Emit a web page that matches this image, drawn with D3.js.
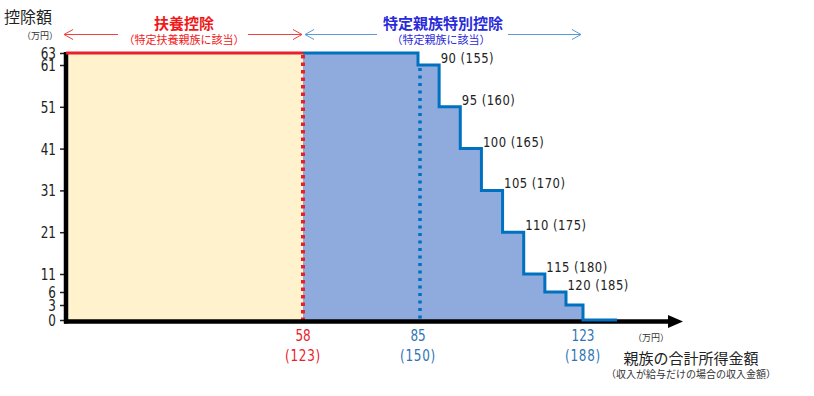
<!DOCTYPE html>
<html>
<head>
<meta charset="utf-8">
<script src="https://cdn.jsdelivr.net/npm/d3@7/dist/d3.min.js"></script>
<style>
  html, body { margin: 0; padding: 0; background: #fff; }
  svg { display: block; }
  .num { font-family: "DejaVu Sans", sans-serif; }
  .jp { font-family: "Noto Sans CJK JP", sans-serif; }
</style>
</head>
<body>
<svg id="chart" width="814" height="396"></svg>
<script>
// ---- data ----
const incomeSteps   = [58, 85, 90, 95, 100, 105, 110, 115, 120, 123];   // 親族の合計所得金額 (万円)
const salarySteps   = [123, 150, 155, 160, 165, 170, 175, 180, 185, 188]; // 給与収入 (万円)
const deductions    = [63, 61, 51, 41, 31, 21, 11, 6, 3, 0];          // 控除額 (万円)
const incomeEnd     = 129;                                            // line extension
const yTickValues   = [0, 3, 6, 11, 21, 31, 41, 51, 61, 63];
const xTickValues   = [58, 85, 123];
const xTickSalary   = [123, 150, 188];
const fuyoMax       = 63;

const svg = d3.select("#chart");

// scales (piecewise linear to follow the hand-drawn reference)
const xs = d3.scaleLinear()
  .domain([0, 58, 85, 120, 123, 129])
  .range([66, 303, 418, 566, 583, 617]);
const ys = d3.scaleLinear()
  .domain([0, 3, 6, 11, 61, 63])
  .range([320, 305, 292, 274, 65, 53]);

const stepPts = incomeSteps.map((x, i) => ({x, y: deductions[i]}));
stepPts.push({x: incomeEnd, y: 0});

// condensed number text helper
function numText(parent, x, y, str, size, fill, anchor, sx) {
  return parent.append("text").attr("class", "num")
    .attr("transform", `translate(${x},${y}) scale(${sx},1)`)
    .attr("text-anchor", anchor).attr("font-size", size).attr("fill", fill)
    .text(str);
}

// yellow area (扶養控除)
svg.append("rect")
  .attr("x", xs(0)).attr("y", ys(fuyoMax))
  .attr("width", xs(58) - xs(0)).attr("height", ys(0) - ys(fuyoMax))
  .attr("fill", "#FFF2CC");

// blue area (特定親族特別控除)
const area = d3.area().curve(d3.curveStepAfter)
  .x(d => xs(d.x)).y0(ys(0)).y1(d => ys(d.y));
svg.append("path").datum(stepPts.slice(0, stepPts.length - 1))
  .attr("d", area).attr("fill", "#8FAADC");

// blue dotted at 85
svg.append("line")
  .attr("x1", xs(85) + 2).attr("x2", xs(85) + 2)
  .attr("y1", ys(61) + 3).attr("y2", ys(0))
  .attr("stroke", "#0070C0").attr("stroke-width", 3.5)
  .attr("stroke-dasharray", "3,4.5");

// red dotted at 58
svg.append("line")
  .attr("x1", xs(58)).attr("x2", xs(58))
  .attr("y1", ys(fuyoMax) + 2).attr("y2", ys(0))
  .attr("stroke", "#E8202A").attr("stroke-width", 4)
  .attr("stroke-dasharray", "3.5,4");

// y axis ticks
const yAxis = d3.axisLeft(ys).tickValues(yTickValues).tickSize(6).tickPadding(3);
const gy = svg.append("g").attr("transform", `translate(${xs(0)},0)`).call(yAxis);
gy.select(".domain").remove();
gy.selectAll(".tick line").attr("stroke", "#222").attr("stroke-width", 1.5);
const ySx = 0.8;
gy.selectAll(".tick text").attr("class", "num").attr("font-size", 15)
  .attr("fill", "#222").attr("dy", "0.36em")
  .attr("x", -10 / ySx).attr("transform", `scale(${ySx},1)`);

// left axis line
svg.append("line")
  .attr("x1", xs(0)).attr("x2", xs(0))
  .attr("y1", ys(fuyoMax) - 1).attr("y2", ys(0) + 3.5)
  .attr("stroke", "#000").attr("stroke-width", 4.5);
// bottom axis line + arrow
svg.append("line")
  .attr("x1", xs(0) - 2).attr("x2", 670)
  .attr("y1", ys(0) + 1.5).attr("y2", ys(0) + 1.5)
  .attr("stroke", "#000").attr("stroke-width", 4.5);
svg.append("path")
  .attr("d", `M668,${ys(0) + 1.5 - 6.5} L683,${ys(0) + 1.5} L668,${ys(0) + 1.5 + 6.5} Z`)
  .attr("fill", "#000");

// red top line
svg.append("line")
  .attr("x1", xs(0)).attr("x2", xs(58))
  .attr("y1", ys(fuyoMax)).attr("y2", ys(fuyoMax))
  .attr("stroke", "#E8202A").attr("stroke-width", 3);

// blue step line
const line = d3.line().curve(d3.curveStepAfter).x(d => xs(d.x)).y(d => ys(d.y));
svg.append("path").datum(stepPts)
  .attr("d", line).attr("fill", "none")
  .attr("stroke", "#0070C0").attr("stroke-width", 3);

// step labels
const lbl = svg.append("g");
incomeSteps.forEach((x, i) => {
  if (i < 2 || i === incomeSteps.length - 1) return;
  numText(lbl, xs(x) + 1.5, ys(deductions[i - 1]) - 2,
    `${x} (${salarySteps[i]})`, 14.5, "#222", "start", 0.8)
    .attr("letter-spacing", 0.6);
});

// x tick labels
const xColors = ["#E8202A", "#2E75B6", "#2E75B6"];
xTickValues.forEach((v, i) => {
  numText(svg, xs(v), 341, v, 16, xColors[i], "middle", 0.75);
  numText(svg, xs(v), 361, `(${xTickSalary[i]})`, 16, xColors[i], "middle", 0.75)
    .attr("letter-spacing", 1);
});

// titles
svg.append("text").attr("class", "jp").attr("x", 4).attr("y", 23)
  .attr("font-size", 16).attr("fill", "#222").text("控除額");
svg.append("text").attr("class", "jp").attr("x", 22).attr("y", 39)
  .attr("font-size", 9).attr("fill", "#333").text("（万円）");

svg.append("text").attr("class", "jp").attr("x", 184).attr("y", 29)
  .attr("text-anchor", "middle").attr("font-size", 15).attr("font-weight", "bold")
  .attr("fill", "#F01818").text("扶養控除");
svg.append("text").attr("class", "jp").attr("x", 184).attr("y", 44)
  .attr("text-anchor", "middle").attr("font-size", 11)
  .attr("fill", "#F01818").text("（特定扶養親族に該当）");

svg.append("text").attr("class", "jp").attr("x", 443).attr("y", 29)
  .attr("text-anchor", "middle").attr("font-size", 15).attr("font-weight", "bold")
  .attr("fill", "#2A2ADB").text("特定親族特別控除");
svg.append("text").attr("class", "jp").attr("x", 441).attr("y", 44)
  .attr("text-anchor", "middle").attr("font-size", 11)
  .attr("fill", "#2A2ADB").text("（特定親族に該当）");

// range arrows
function arrow(x1, x2, y, color, head) {
  svg.append("line").attr("x1", x1).attr("x2", x2).attr("y1", y).attr("y2", y)
    .attr("stroke", color).attr("stroke-width", 1);
  const hx = head === "left" ? x1 : x2;
  const d = head === "left" ? 9 : -9;
  svg.append("path")
    .attr("d", `M${hx + d},${y - 5} L${hx},${y} L${hx + d},${y + 5}`)
    .attr("fill", "none").attr("stroke", color).attr("stroke-width", 1);
}
arrow(64, 118, 34.5, "#F04040", "left");
arrow(248, 302, 34.5, "#F04040", "right");
arrow(305, 377, 34.5, "#5B9BD5", "left");
arrow(508, 581, 34.5, "#5B9BD5", "right");

// x axis titles
svg.append("text").attr("class", "jp").attr("x", 651).attr("y", 341)
  .attr("text-anchor", "middle").attr("font-size", 9).attr("fill", "#333").text("（万円）");
svg.append("text").attr("class", "jp").attr("x", 691).attr("y", 364)
  .attr("text-anchor", "middle").attr("font-size", 15).attr("fill", "#222").text("親族の合計所得金額");
svg.append("text").attr("class", "jp").attr("x", 691).attr("y", 378)
  .attr("text-anchor", "middle").attr("font-size", 10).attr("fill", "#333").text("（収入が給与だけの場合の収入金額）");
</script>
</body>
</html>
